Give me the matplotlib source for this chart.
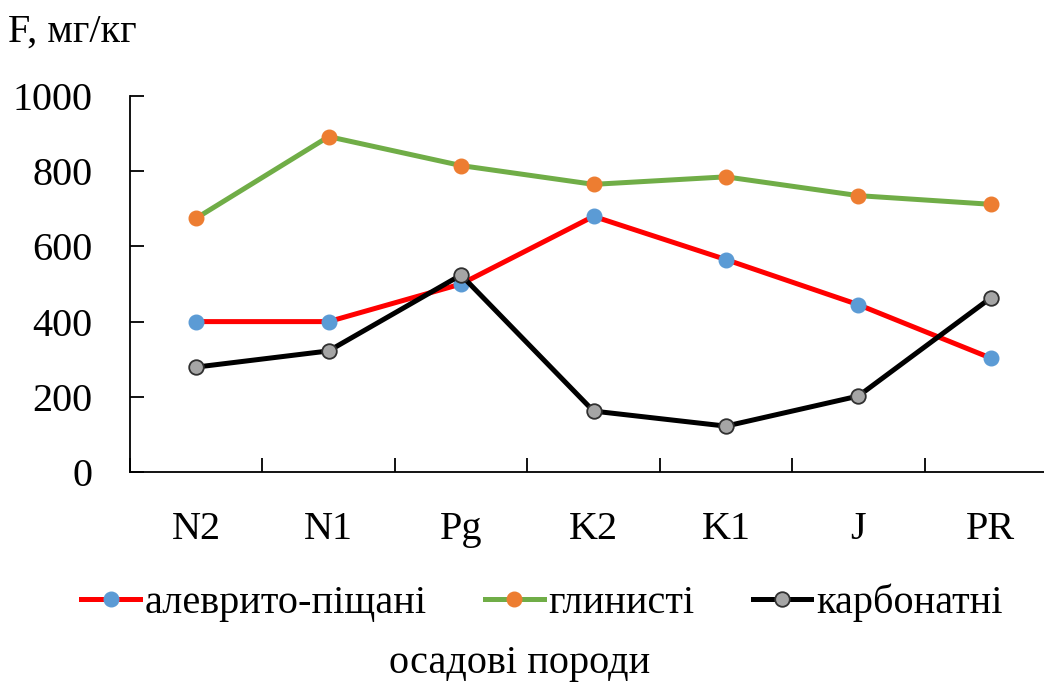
import numpy as np
import matplotlib.pyplot as plt

plt.rcParams['font.family'] = ['Liberation Serif', 'DejaVu Serif']

periods = ['N2', 'N1', 'Pg', 'K2', 'K1', 'J', 'PR']
aleur = [400, 400, 500, 680, 565, 445, 303]
clay = [675, 892, 815, 765, 785, 735, 712]
carb = [279, 322, 524, 162, 122, 202, 463]

fig = plt.figure(figsize=(10.44, 6.83), dpi=100)
# axes spans x 130..1057 px, y 96..472 px
ax = fig.add_axes([130 / 1044, 1 - 472 / 683, 927 / 1044, 376 / 683])

x = np.arange(len(periods))
ax.plot(x, aleur, color='#ff0000', lw=3.6, marker='o', ms=10.5,
        mfc='#5b9bd5', mec='#5b9bd5', label='алеврито-піщані')
ax.plot(x, clay, color='#70ad47', lw=3.6, marker='o', ms=10.5,
        mfc='#ed7d31', mec='#ed7d31', label='глинисті')
ax.plot(x, carb, color='black', lw=3.6, marker='o', ms=10.5,
        mfc='#a5a5a5', mec='#303030', mew=1.3, label='карбонатні')

ax.set_xlim(-0.5, 6.5)
ax.set_ylim(0, 1000)
ax.set_yticks(range(0, 1001, 200))
ax.set_xticks(x)
ax.set_xticklabels(periods)
ax.set_xticks(np.arange(-0.5, 6.6, 1), minor=True)
ax.tick_params(axis='x', which='major', length=0, pad=28, labelsize=29)
ax.tick_params(axis='x', which='minor', direction='in', length=10, width=1.3)
ax.tick_params(axis='y', direction='in', length=10, width=1.3, pad=27, labelsize=29)
for s in ['top', 'right']:
    ax.spines[s].set_visible(False)
ax.spines['left'].set_linewidth(1.3)
ax.spines['bottom'].set_linewidth(1.3)

fig.text(8 / 1044, 1 - 32 / 683, 'F, мг/кг', fontsize=29, va='center', ha='left')
fig.text(520 / 1044, 1 - 663 / 683, 'осадові породи', fontsize=29, va='center', ha='center')

fig.legend(loc='center', bbox_to_anchor=(542 / 1044, 1 - 603 / 683), ncol=3,
           frameon=False, fontsize=29, handlelength=1.45, handletextpad=0.12,
           columnspacing=1.45)

fig.savefig('out.png', dpi=100)
